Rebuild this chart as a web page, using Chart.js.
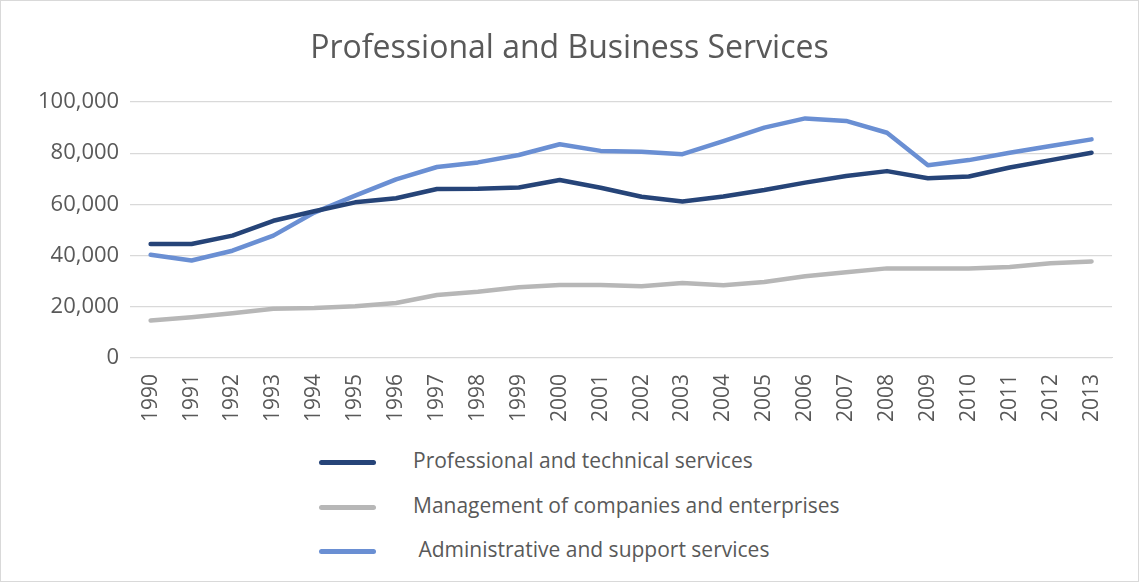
<!DOCTYPE html>
<html><head><meta charset="utf-8">
<script src="https://cdn.jsdelivr.net/npm/chart.js@4/dist/chart.umd.min.js"></script>
<style>
html,body{margin:0;padding:0;background:#fff;}
#wrap{position:relative;width:1139px;height:582px;box-sizing:border-box;border:1px solid #d9d9d9;overflow:hidden;}
#c{position:absolute;left:0;top:0;}
#legend{position:absolute;left:318px;top:440px;font-family:"Open Sans",Lato,sans-serif;font-size:21px;color:#595959;}
.li{position:relative;height:44.5px;white-space:pre;}
.sw{position:absolute;left:0;top:19px;width:57px;height:5px;border-radius:3px;}
.tx{position:absolute;left:94px;top:5px;}
</style></head><body>
<div id="wrap"><canvas id="c" width="1137" height="440"></canvas><div id="legend"></div></div>
<script>
const years = ["1990","1991","1992","1993","1994","1995","1996","1997","1998","1999","2000","2001","2002","2003","2004","2005","2006","2007","2008","2009","2010","2011","2012","2013"];
const professionalTechnical = [44500,44500,47800,53600,57300,60800,62400,66000,66100,66600,69500,66500,63000,61100,63100,65600,68500,71100,73000,70200,70900,74400,77300,80200];
const managementCompanies = [14600,15900,17500,19200,19500,20200,21500,24600,25900,27600,28500,28500,28000,29300,28400,29700,31900,33500,35000,35000,35000,35500,37000,37700];
const adminSupport = [40300,38100,41900,47800,56800,63400,69800,74600,76400,79300,83500,80900,80600,79600,84700,90000,93600,92600,88000,75300,77300,80200,82800,85400];
const seriesNames = ["Professional and technical services","Management of companies and enterprises"," Administrative and support services"];
const seriesColors = ["#264478","#b7b7b7","#6a8fd3"];
const yTicks = [0,20000,40000,60000,80000,100000];

const font = '"Open Sans", Lato, sans-serif';
const data = [professionalTechnical, managementCompanies, adminSupport];
const chart = new Chart(document.getElementById('c'), {
  type: 'line',
  data: {
    labels: years,
    datasets: data.map((d,i)=>({label: seriesNames[i], data: d, borderColor: seriesColors[i], backgroundColor: seriesColors[i], borderWidth: 4.5, pointRadius: 0, tension: 0, borderCapStyle: 'round', borderJoinStyle: 'round'}))
  },
  options: {
    responsive: false, animation: false,
    layout: {padding: {left: 26, right: 26, top: 0, bottom: 11}},
    plugins: {
      legend: {display: false},
      tooltip: {enabled: false},
      title: {display: true, text: 'Professional and Business Services', color: '#595959', font: {family: font, size: 32, weight: 'normal'}, padding: {top: 29, bottom: 33.6}}
    },
    scales: {
      x: {offset: true, grid: {display: false}, border: {display: true, color: '#d9d9d9'},
          ticks: {color: '#595959', font: {family: font, size: 21}, minRotation: 90, maxRotation: 90, autoSkip: false, padding: 8}},
      y: {min: 0, max: 100000, afterBuildTicks: ax => { ax.ticks = yTicks.map(v=>({value:v})); },
          grid: {color: '#d9d9d9', lineWidth: 1.3, drawTicks: false}, border: {display: false},
          ticks: {color: '#595959', font: {family: font, size: 22}, padding: 11, callback: v => v.toLocaleString('en-US')}}
    }
  }
});
const lg = document.getElementById('legend');
seriesNames.forEach((n,i)=>{
  const d = document.createElement('div'); d.className='li';
  d.innerHTML = '<div class="sw" style="background:'+seriesColors[i]+'"></div><div class="tx"></div>';
  d.querySelector('.tx').textContent = n;
  lg.appendChild(d);
});
</script></body></html>
